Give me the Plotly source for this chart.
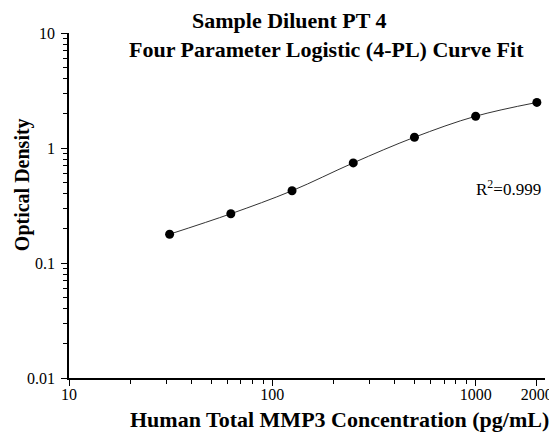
import plotly.graph_objects as go

conc = [31.25, 62.5, 125, 250, 500, 1000, 2000]
od = [0.178, 0.268, 0.425, 0.742, 1.24, 1.89, 2.49]
x_ticks = [10, 100, 1000, 2000]
x_ticklabels = ["10", "100", "1000", "2000"]
y_ticks = [0.01, 0.1, 1, 10]
y_ticklabels = ["0.01", "0.1", "1", "10"]

font_family = "Liberation Serif"

fig = go.Figure()
fig.add_trace(go.Scatter(
    x=conc, y=od, mode="lines", line=dict(color="#333333", width=1, shape="spline"),
    hoverinfo="skip", showlegend=False))
fig.add_trace(go.Scatter(
    x=conc, y=od, mode="markers", marker=dict(color="black", size=9),
    showlegend=False))

axis_common = dict(
    showline=True, linecolor="black", linewidth=1.5, ticks="outside", ticklen=6,
    tickwidth=1.2, tickcolor="black", showgrid=False, zeroline=False, automargin=False,
    tickfont=dict(family=font_family, size=16, color="black"),
)

fig.update_xaxes(
    type="log", range=[1, 3.341], tickvals=x_ticks, ticktext=x_ticklabels,
    ticklabelstandoff=-5,
    minor=dict(ticks="outside", ticklen=4, tickwidth=1.2, tickcolor="black", dtick="D1"),
    **axis_common)
fig.update_yaxes(
    type="log", range=[-2, 1], tickvals=y_ticks, ticktext=y_ticklabels,
    ticklabelstandoff=3,
    minor=dict(ticks="outside", ticklen=4, tickwidth=1.2, tickcolor="black", dtick="D1"),
    **axis_common)

def ann(text, x, y, size, angle=0, bold=True):
    fig.add_annotation(text=f"<b>{text}</b>" if bold else text, xref="paper", yref="paper",
                       x=x, y=y, xanchor="center", yanchor="middle", showarrow=False,
                       textangle=angle,
                       font=dict(family=font_family, size=size, color="black"))

ann("Sample Diluent PT 4", 0.464, 1.036, 22)
ann("Four Parameter Logistic (4-PL) Curve Fit", 0.542, 0.951, 22)
ann("Human Total MMP3 Concentration (pg/mL)", 0.569, -0.119, 22)
ann("Optical Density", -0.0987, 0.559, 20, angle=-90)
ann("R<sup>2</sup>=0.999", 0.923, 0.551, 17, bold=False)

# page body has an 8px margin; size/margins chosen so the plot area sits at
# x 69..545, y 33..378 in the 557x434 window
fig.update_layout(
    width=549, height=426, margin=dict(l=61, r=12, t=25, b=56),
    paper_bgcolor="white", plot_bgcolor="white",
)

fig.write_html("out.html")
